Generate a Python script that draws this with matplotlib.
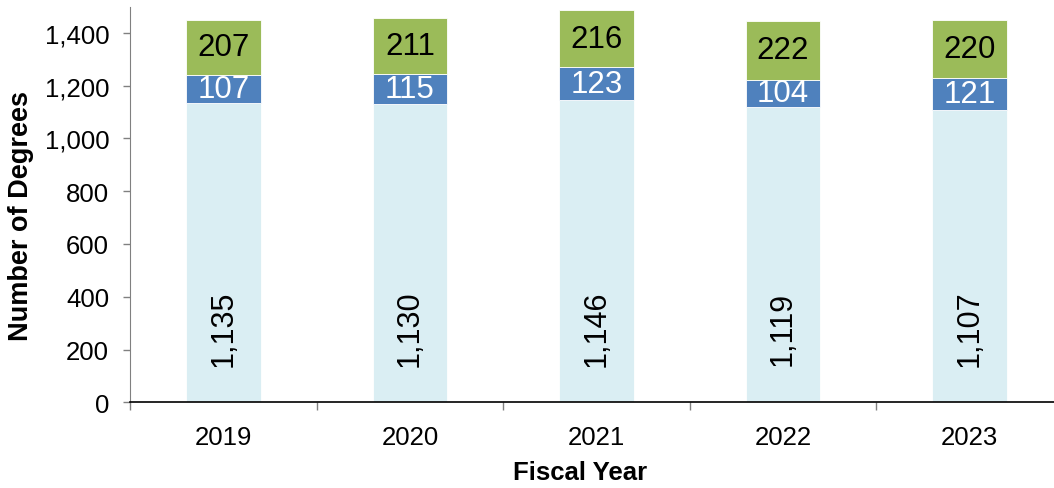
import numpy as np
import matplotlib
matplotlib.use("Agg")
import matplotlib.pyplot as plt
from matplotlib.ticker import FuncFormatter, FixedLocator

plt.rcParams['font.family'] = ['Liberation Sans', 'DejaVu Sans']

# ---- data ----
years = ["2019", "2020", "2021", "2022", "2023"]
bottom_vals = [1135, 1130, 1146, 1119, 1107]
middle_vals = [107, 115, 123, 104, 121]
top_vals = [207, 211, 216, 222, 220]

c_bottom = "#DAEEF3"
c_middle = "#4F81BD"
c_top = "#9BBB59"

fig = plt.figure(figsize=(10.54, 4.89), dpi=100)
ax = fig.add_axes([130 / 1054, 1 - 403.3 / 489, 933 / 1054, 395.8 / 489])

x = np.arange(len(years))
w = 0.40
b1 = np.array(bottom_vals)
b2 = b1 + np.array(middle_vals)

ax.bar(x, bottom_vals, w, color=c_bottom, edgecolor="white", linewidth=0.6)
ax.bar(x, middle_vals, w, bottom=b1, color=c_middle, edgecolor="white", linewidth=0.6)
ax.bar(x, top_vals, w, bottom=b2, color=c_top, edgecolor="white", linewidth=0.6)

# labels
for i in range(len(years)):
    ax.text(x[i], 282, f"{bottom_vals[i]:,}", rotation=90, ha="center", va="center",
            fontsize=22, color="black")
    ax.text(x[i], b1[i] + middle_vals[i] / 2, str(middle_vals[i]), ha="center", va="center",
            fontsize=22.5, color="white")
    ax.text(x[i], b2[i] + top_vals[i] / 2, str(top_vals[i]), ha="center", va="center",
            fontsize=22.5, color="black")

ax.set_xlim(-0.5, len(years) - 0.5)
ax.set_ylim(0, 1500)
ax.set_yticks(range(0, 1401, 200))
ax.yaxis.set_major_formatter(FuncFormatter(lambda v, p: f"{int(v):,}"))

ax.set_xticks(x)
ax.set_xticklabels(years)
ax.xaxis.set_minor_locator(FixedLocator(np.arange(-0.5, len(years), 1.0)))
ax.tick_params(axis="x", which="major", length=0, pad=16, labelsize=18.5)
ax.tick_params(axis="x", which="minor", length=6, width=1, color="#808080", direction="out")
ax.tick_params(axis="y", length=5, width=1, color="#808080", pad=10, labelsize=18.5)

for s in ["top", "right"]:
    ax.spines[s].set_visible(False)
ax.spines["left"].set_color("#808080")
ax.spines["bottom"].set_color("black")
ax.spines["bottom"].set_linewidth(1.2)

fig.text(580 / 1054, 1 - 473 / 489, "Fiscal Year", ha="center", va="center",
         fontsize=18.5, fontweight="bold")
fig.text(21 / 1054, 1 - 216 / 489, "Number of Degrees", rotation=90, ha="center", va="center",
         fontsize=19.5, fontweight="bold")

fig.savefig("out.png", dpi=100)
